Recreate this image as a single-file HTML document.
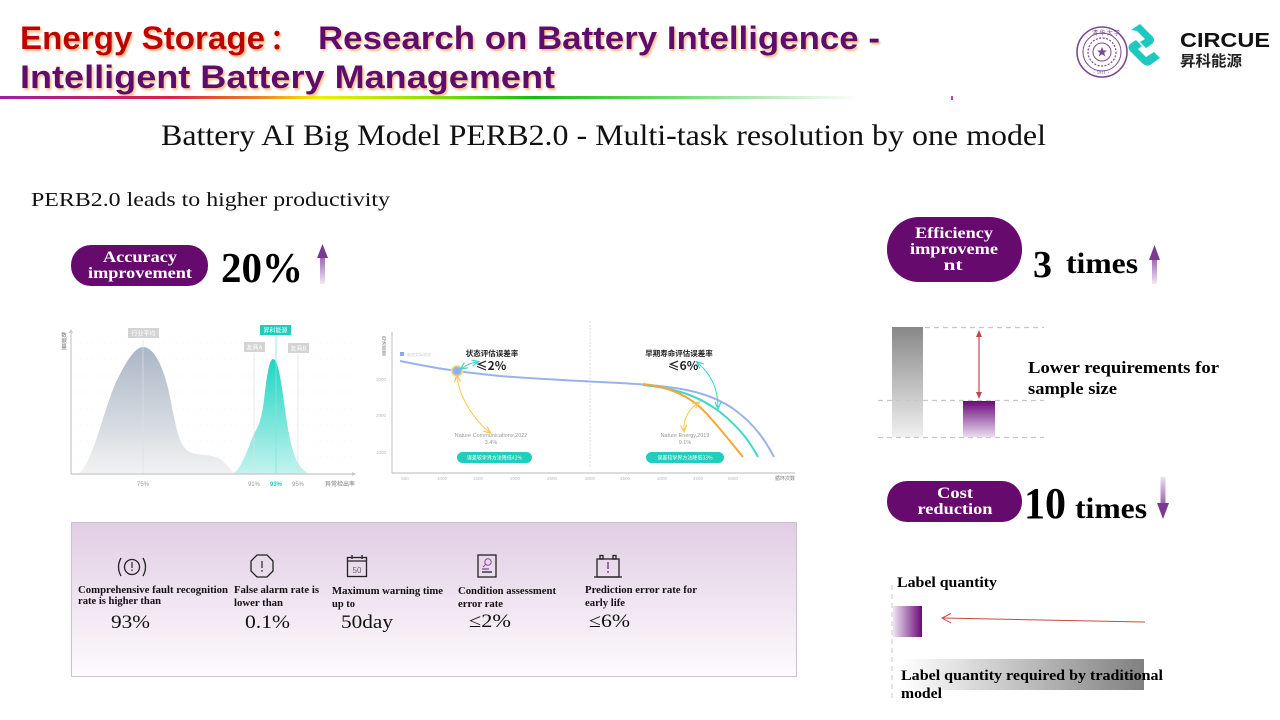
<!DOCTYPE html>
<html><head><meta charset="utf-8">
<style>
html,body{margin:0;padding:0;background:#fff;}
svg{display:block;}
</style></head>
<body>
<svg width="1280" height="720" viewBox="0 0 1280 720" xmlns="http://www.w3.org/2000/svg">
<defs>
  <linearGradient id="rainbow" x1="0" y1="0" x2="860" y2="0" gradientUnits="userSpaceOnUse">
    <stop offset="0" stop-color="#a020a0"/>
    <stop offset="0.2" stop-color="#e0204a"/>
    <stop offset="0.3" stop-color="#f08020"/>
    <stop offset="0.37" stop-color="#f0f000"/>
    <stop offset="0.5" stop-color="#90e000"/>
    <stop offset="0.62" stop-color="#10c010"/>
    <stop offset="0.78" stop-color="#70d870"/>
    <stop offset="1" stop-color="#ffffff"/>
  </linearGradient>
  <filter id="tshadow" x="-5%" y="-20%" width="110%" height="150%">
    <feDropShadow dx="1.5" dy="2" stdDeviation="1" flood-color="#f0a060" flood-opacity="0.75"/>
  </filter>
  <linearGradient id="upArrow" x1="0" y1="0" x2="0" y2="1">
    <stop offset="0" stop-color="#9a60b0"/>
    <stop offset="1" stop-color="#f3e8f5"/>
  </linearGradient>
  <linearGradient id="downArrow" x1="0" y1="0" x2="0" y2="1">
    <stop offset="0" stop-color="#ece0f0"/>
    <stop offset="1" stop-color="#9a60b0"/>
  </linearGradient>
  <linearGradient id="grayBar" x1="0" y1="0" x2="0" y2="1">
    <stop offset="0" stop-color="#888888"/>
    <stop offset="1" stop-color="#f0f0f0"/>
  </linearGradient>
  <linearGradient id="purpBar" x1="0" y1="0" x2="0" y2="1">
    <stop offset="0" stop-color="#6a0a78"/>
    <stop offset="1" stop-color="#eadcf0"/>
  </linearGradient>
  <linearGradient id="purpSq" x1="0" y1="0" x2="1" y2="0">
    <stop offset="0" stop-color="#efe4f2"/>
    <stop offset="1" stop-color="#6a0a78"/>
  </linearGradient>
  <linearGradient id="grayRect" x1="0" y1="0" x2="1" y2="0">
    <stop offset="0" stop-color="#ffffff"/>
    <stop offset="1" stop-color="#808080"/>
  </linearGradient>
  <linearGradient id="panelG" x1="0" y1="0" x2="0" y2="1">
    <stop offset="0" stop-color="#e1cde4"/>
    <stop offset="1" stop-color="#fdfbfd"/>
  </linearGradient>
  <linearGradient id="bellGray" x1="0" y1="0" x2="0" y2="1">
    <stop offset="0" stop-color="#aab6c6"/>
    <stop offset="1" stop-color="#f2f2f2"/>
  </linearGradient>
  <linearGradient id="bellTeal" x1="0" y1="0" x2="0" y2="1">
    <stop offset="0" stop-color="#1fd4c4"/>
    <stop offset="1" stop-color="#c4f3ee"/>
  </linearGradient>
  <radialGradient id="dotGlow">
    <stop offset="0" stop-color="#8aa8f0"/>
    <stop offset="0.55" stop-color="#9ab4f0"/>
    <stop offset="0.75" stop-color="#f8e070"/>
    <stop offset="1" stop-color="#fff6c0" stop-opacity="0"/>
  </radialGradient>
  <marker id="arrRed" markerWidth="8" markerHeight="8" refX="4" refY="4" orient="auto-start-reverse" markerUnits="userSpaceOnUse">
    <path d="M0,1 L7,4 L0,7 Z" fill="#c04848"/>
  </marker>
  <marker id="arrY" markerWidth="8" markerHeight="8" refX="5" refY="4" orient="auto-start-reverse" markerUnits="userSpaceOnUse">
    <path d="M0,1 L7,4 L0,7" fill="none" stroke="#f6c84a" stroke-width="1.2"/>
  </marker>
  <marker id="arrT" markerWidth="8" markerHeight="8" refX="5" refY="4" orient="auto-start-reverse" markerUnits="userSpaceOnUse">
    <path d="M0,1 L7,4 L0,7" fill="none" stroke="#38d6c6" stroke-width="1.2"/>
  </marker>
</defs>

<!-- Title -->
<g font-family="'Liberation Sans', 'Noto Sans CJK SC', sans-serif" font-weight="bold" font-size="32" filter="url(#tshadow)">
  <text x="20" y="49" fill="#c00000" textLength="245" lengthAdjust="spacingAndGlyphs">Energy Storage</text>
  <text x="270" y="49" fill="#c00000" font-family="'Noto Sans CJK SC', sans-serif" font-size="28">：</text>
  <text x="318" y="49" fill="#5e0a6c" textLength="562" lengthAdjust="spacingAndGlyphs">Research on Battery Intelligence -</text>
  <text x="20" y="88" fill="#5e0a6c" textLength="535" lengthAdjust="spacingAndGlyphs">Intelligent Battery Management</text>
</g>
<rect x="0" y="96" width="860" height="3" fill="url(#rainbow)"/>
<rect x="951" y="96" width="2" height="4" fill="#c040c0"/>

<!-- Logos -->
<g transform="translate(1102,52)" fill="none" stroke="#7a4a8e">
  <circle r="25" stroke-width="1.6"/>
  <circle r="19" stroke-width="1"/>
  <circle r="14" stroke-width="1.2" stroke-dasharray="2 1.5"/>
  <circle r="9" stroke-width="1"/>
  <path d="M0,-5 L1.5,-1.5 L5,-1.5 L2.2,0.8 L3.2,4.5 L0,2.3 L-3.2,4.5 L-2.2,0.8 L-5,-1.5 L-1.5,-1.5 Z" fill="#7a4a8e" stroke="none"/>
</g>
<g font-family="'Noto Sans CJK SC', sans-serif" font-size="6" fill="#7a4a8e">
  <text x="1092" y="35">清 华 大 学</text>
  <text x="1092" y="74" font-size="4">· 1911 ·</text>
</g>
<g fill="#1ec8c0">
  <path d="M1131,30 L1140,24 L1152,36 Q1156,40 1152,44 L1146,48 L1140,42 L1145,39 L1137,31 Z"/>
  <path d="M1130,44 L1136,40 L1142,46 L1138,49 L1146,57 L1154,52 L1160,58 L1150,65 Q1146,67 1142,63 L1130,51 Q1127,47 1130,44 Z"/>
</g>
<text x="1180" y="47" font-family="'Liberation Sans', sans-serif" font-weight="bold" font-size="20" fill="#111" textLength="90" lengthAdjust="spacingAndGlyphs">CIRCUE</text>
<text x="1180" y="66" font-family="'Noto Sans CJK SC', sans-serif" font-weight="bold" font-size="15" fill="#222" textLength="62" lengthAdjust="spacingAndGlyphs">昇科能源</text>

<!-- Subtitle -->
<text x="161" y="145" font-family="'Liberation Serif', serif" font-size="30" fill="#111" textLength="885" lengthAdjust="spacingAndGlyphs">Battery AI Big Model PERB2.0 - Multi-task resolution by one model</text>
<text x="31" y="206" font-family="'Liberation Serif', serif" font-size="20" fill="#111" textLength="359" lengthAdjust="spacingAndGlyphs">PERB2.0 leads to higher productivity</text>

<!-- Accuracy improvement -->
<rect x="71" y="245" width="137" height="41" rx="20" fill="#660a6e"/>
<g font-family="'Liberation Serif', serif" font-weight="bold" font-size="16" fill="#fff" text-anchor="middle">
  <text x="140" y="262" textLength="74" lengthAdjust="spacingAndGlyphs">Accuracy</text>
  <text x="140" y="278" textLength="104" lengthAdjust="spacingAndGlyphs">improvement</text>
</g>
<text x="221" y="282" font-family="'Liberation Serif', serif" font-weight="bold" font-size="42" fill="#000" textLength="82" lengthAdjust="spacingAndGlyphs">20%</text>
<rect x="320" y="256" width="5" height="28" fill="url(#upArrow)"/>
<path d="M322.5,244 L328,258 L317,258 Z" fill="#7a3a90"/>

<!-- Efficiency improvement -->
<rect x="887" y="217" width="135" height="65" rx="32" fill="#660a6e"/>
<g font-family="'Liberation Serif', serif" font-weight="bold" font-size="16" fill="#fff" text-anchor="middle">
  <text x="954" y="238" textLength="78" lengthAdjust="spacingAndGlyphs">Efficiency</text>
  <text x="954" y="254" textLength="88" lengthAdjust="spacingAndGlyphs">improveme</text>
  <text x="953" y="270" textLength="19" lengthAdjust="spacingAndGlyphs">nt</text>
</g>
<text x="1033" y="277" font-family="'Liberation Serif', serif" font-weight="bold" font-size="38" fill="#000">3</text>
<text x="1066" y="273" font-family="'Liberation Serif', serif" font-weight="bold" font-size="30" fill="#000" textLength="72" lengthAdjust="spacingAndGlyphs">times</text>
<rect x="1152" y="258" width="5" height="26" fill="url(#upArrow)"/>
<path d="M1154.5,245 L1160,260 L1149,260 Z" fill="#7a3a90"/>

<!-- Sample size chart -->
<rect x="892" y="327" width="31" height="110" fill="url(#grayBar)"/>
<g stroke="#c8c8c8" stroke-width="1.2" stroke-dasharray="5 4">
  <line x1="925" y1="327.5" x2="1044" y2="327.5"/>
  <line x1="878" y1="400.5" x2="1044" y2="400.5"/>
  <line x1="878" y1="437.5" x2="1044" y2="437.5"/>
</g>
<rect x="963" y="401" width="32" height="36" fill="url(#purpBar)"/>
<line x1="979" y1="333" x2="979" y2="396" stroke="#c04848" stroke-width="1.2" marker-start="url(#arrRed)" marker-end="url(#arrRed)"/>
<g font-family="'Liberation Serif', serif" font-weight="bold" font-size="17" fill="#000">
  <text x="1028" y="373" textLength="191" lengthAdjust="spacingAndGlyphs">Lower requirements for</text>
  <text x="1028" y="394" textLength="89" lengthAdjust="spacingAndGlyphs">sample size</text>
</g>

<!-- Cost reduction -->
<rect x="887" y="481" width="135" height="41" rx="20" fill="#660a6e"/>
<g font-family="'Liberation Serif', serif" font-weight="bold" font-size="16" fill="#fff" text-anchor="middle">
  <text x="955" y="498" textLength="36" lengthAdjust="spacingAndGlyphs">Cost</text>
  <text x="955" y="514" textLength="75" lengthAdjust="spacingAndGlyphs">reduction</text>
</g>
<text x="1024" y="518" font-family="'Liberation Serif', serif" font-weight="bold" font-size="44" fill="#000" textLength="42" lengthAdjust="spacingAndGlyphs">10</text>
<text x="1075" y="518" font-family="'Liberation Serif', serif" font-weight="bold" font-size="30" fill="#000" textLength="72" lengthAdjust="spacingAndGlyphs">times</text>
<rect x="1160.5" y="477" width="5" height="28" fill="url(#downArrow)"/>
<path d="M1157,503 L1169,503 L1163,519 Z" fill="#7a3a90"/>

<!-- Label quantity -->
<line x1="892" y1="585" x2="892" y2="700" stroke="#c8c8c8" stroke-width="1" stroke-dasharray="5 4"/>
<text x="897" y="587" font-family="'Liberation Serif', serif" font-weight="bold" font-size="14.5" fill="#000" textLength="100" lengthAdjust="spacingAndGlyphs">Label quantity</text>
<rect x="893" y="606" width="29" height="31" fill="url(#purpSq)"/>
<line x1="1145" y1="622" x2="943" y2="618" stroke="#c84a4a" stroke-width="1"/>
<path d="M951,613.5 L942,618 L951,623" fill="none" stroke="#c84a4a" stroke-width="1"/>
<rect x="902" y="659" width="242" height="31" fill="url(#grayRect)"/>
<g font-family="'Liberation Serif', serif" font-weight="bold" font-size="14.5" fill="#000">
  <text x="901" y="680" textLength="262" lengthAdjust="spacingAndGlyphs">Label quantity required by traditional</text>
  <text x="901" y="698" textLength="41" lengthAdjust="spacingAndGlyphs">model</text>
</g>

<!-- Chart 1 : distribution -->
<g>
  <g stroke="#f4f4f4" stroke-width="0.6" stroke-dasharray="3 3">
    <line x1="73" y1="343" x2="352" y2="343"/>
    <line x1="73" y1="359" x2="352" y2="359"/>
    <line x1="73" y1="376" x2="352" y2="376"/>
    <line x1="73" y1="392" x2="352" y2="392"/>
    <line x1="73" y1="409" x2="352" y2="409"/>
    <line x1="73" y1="425" x2="352" y2="425"/>
    <line x1="73" y1="441" x2="352" y2="441"/>
    <line x1="73" y1="457" x2="352" y2="457"/>
  </g>
  <path d="M77,474 C92,470 104,405 118,378 C128,358 136,347 143,347 C152,347 161,360 168,388 C175,418 177,446 190,452 C200,456 210,454 218,458 C226,462 230,470 236,474 Z" fill="url(#bellGray)"/>
  <path d="M233,474 C240,470 247,452 253,436 C257,428 261,424 264,400 C267,372 270,359 273,359 C277,359 280,372 284,402 C288,432 292,455 300,466 C304,471 307,473 310,474 Z" fill="url(#bellTeal)"/>
  <g stroke="#e0e0e0" stroke-width="0.7">
    <line x1="143" y1="340" x2="143" y2="474"/>
    <line x1="254" y1="353" x2="254" y2="474"/>
    <line x1="298" y1="354" x2="298" y2="474"/>
  </g>
  <line x1="276" y1="336" x2="276" y2="474" stroke="#7fe6dc" stroke-width="0.8"/>
  <line x1="71" y1="330" x2="71" y2="474" stroke="#c8c8c8" stroke-width="1.2"/>
  <line x1="71" y1="474" x2="355" y2="474" stroke="#c8c8c8" stroke-width="1.2"/>
  <path d="M69,333 L71,329 L73,333 Z" fill="#c8c8c8"/>
  <path d="M352,472 L356,474 L352,476 Z" fill="#c8c8c8"/>
  <rect x="128" y="328" width="31" height="10" fill="#d4d4d4"/>
  <rect x="260" y="325" width="31" height="10" fill="#1ecdbd"/>
  <rect x="244" y="342" width="21" height="10" fill="#d4d4d4"/>
  <rect x="288" y="343" width="21" height="10" fill="#d4d4d4"/>
  <g font-family="'Noto Sans CJK SC', sans-serif" font-size="6" fill="#fff" text-anchor="middle">
    <text x="143.5" y="335.5">行业平均</text>
    <text x="275.5" y="332.5">昇科能源</text>
    <text x="254.5" y="349.5">友商A</text>
    <text x="298.5" y="350.5">友商B</text>
  </g>
  <g font-family="'Liberation Sans', 'Noto Sans CJK SC', sans-serif" font-size="6" fill="#999" text-anchor="middle">
    <text x="143" y="486">75%</text>
    <text x="254" y="486">91%</text>
    <text x="276" y="486" fill="#1ecdbd" font-weight="bold">93%</text>
    <text x="298" y="486">95%</text>
    <text x="340" y="486" fill="#777">异常检出率</text>
  </g>
  <g font-family="'Noto Sans CJK SC', sans-serif" font-size="5.5" fill="#777" text-anchor="middle">
    <text x="64" y="337">数</text>
    <text x="64" y="343">据</text>
    <text x="64" y="349">量</text>
  </g>
</g>

<!-- Chart 2 : capacity curves -->
<g>
  <line x1="392" y1="332" x2="392" y2="473" stroke="#c8c8c8" stroke-width="1.2"/>
  <line x1="392" y1="473" x2="795" y2="473" stroke="#c8c8c8" stroke-width="1.2"/>
  <line x1="590" y1="321" x2="590" y2="468" stroke="#d4d4d4" stroke-width="0.8" stroke-dasharray="2 1.5"/>
  <path d="M400,361 C430,367 450,371 500,376 C540,379 580,381 620,383 C680,386 710,392 735,410 C755,425 765,440 774,457" fill="none" stroke="#9ab2ec" stroke-width="2"/>
  <path d="M643,385 C680,389 700,397 720,412 C740,428 750,442 758,457" fill="none" stroke="#42d8c8" stroke-width="2"/>
  <path d="M643,384 C670,387 690,396 705,412 C720,428 733,445 743,457" fill="none" stroke="#f7a72e" stroke-width="2"/>
  <circle cx="457" cy="371" r="7" fill="url(#dotGlow)"/>
  <path d="M457,377 C460,400 475,420 489,432" fill="none" stroke="#f6c84a" stroke-width="1" marker-start="url(#arrY)" marker-end="url(#arrY)"/>
  <path d="M462,368 C468,364 472,363 477,362" fill="none" stroke="#38d6c6" stroke-width="1" marker-start="url(#arrT)" marker-end="url(#arrT)"/>
  <path d="M698,363 C712,375 718,390 718,407" fill="none" stroke="#38d6c6" stroke-width="1" marker-start="url(#arrT)" marker-end="url(#arrT)"/>
  <path d="M698,403 C688,410 683,420 684,430" fill="none" stroke="#f6c84a" stroke-width="1" marker-start="url(#arrY)" marker-end="url(#arrY)"/>
  <rect x="400" y="352" width="4" height="4" fill="#8aa8f0"/>
  <text x="407" y="356" font-family="'Noto Sans CJK SC', sans-serif" font-size="4" fill="#ccc">电池实际状态</text>
  <g font-family="'Noto Sans CJK SC', sans-serif" font-weight="bold" fill="#222" text-anchor="middle">
    <text x="492" y="356" font-size="7.5">状态评估误差率</text>
    <text x="491" y="370" font-size="12">≤2%</text>
    <text x="679" y="356" font-size="7.5">早期寿命评估误差率</text>
    <text x="683" y="370" font-size="12">≤6%</text>
  </g>
  <g font-family="'Liberation Sans', sans-serif" font-size="5.5" fill="#999" text-anchor="middle">
    <text x="491" y="437">Nature Communications,2022</text>
    <text x="491" y="444">3.4%</text>
    <text x="685" y="437">Nature Energy,2019</text>
    <text x="685" y="444">9.1%</text>
  </g>
  <rect x="457" y="452" width="75" height="11" rx="5.5" fill="#22cdbd"/>
  <rect x="646" y="452" width="78" height="11" rx="5.5" fill="#22cdbd"/>
  <g font-family="'Noto Sans CJK SC', sans-serif" font-size="5" fill="#fff" text-anchor="middle">
    <text x="494.5" y="459.5">误差较学界方法降低41%</text>
    <text x="685" y="459.5">误差较学界方法降低33%</text>
  </g>
  <g font-family="'Liberation Sans', sans-serif" font-size="4.5" fill="#bbb" text-anchor="middle">
    <text x="405" y="480">500</text>
    <text x="442" y="480">1000</text>
    <text x="478" y="480">1500</text>
    <text x="515" y="480">2000</text>
    <text x="552" y="480">2500</text>
    <text x="590" y="480">3000</text>
    <text x="625" y="480">3500</text>
    <text x="662" y="480">4000</text>
    <text x="698" y="480">4500</text>
    <text x="733" y="480">5000</text>
    <text x="381" y="381">3000</text>
    <text x="381" y="417">2000</text>
    <text x="381" y="454">1000</text>
  </g>
  <text x="785" y="480" font-family="'Noto Sans CJK SC', sans-serif" font-size="5" fill="#777" text-anchor="middle">循环次数</text>
  <g font-family="'Noto Sans CJK SC', sans-serif" font-size="4.5" fill="#777" text-anchor="middle">
    <text x="384" y="340">电</text>
    <text x="384" y="345">池</text>
    <text x="384" y="350">容</text>
    <text x="384" y="355">量</text>
  </g>
</g>

<!-- Bottom panel -->
<rect x="71.5" y="522.5" width="725" height="154" fill="url(#panelG)" stroke="#d2bcd6" stroke-width="1"/>
<!-- icons -->
<g fill="none" stroke="#222" stroke-width="1.3">
  <circle cx="132" cy="567" r="7.5"/>
  <path d="M121,558 Q116,567 121,576"/>
  <path d="M143,558 Q148,567 143,576"/>
  <path d="M257,555 L267,555 L273,561 L273,571 L267,577 L257,577 L251,571 L251,561 Z"/>
  <rect x="347.5" y="557.5" width="19" height="19"/>
  <line x1="347.5" y1="561" x2="366.5" y2="561"/>
  <line x1="352" y1="555" x2="352" y2="559"/>
  <line x1="362" y1="555" x2="362" y2="559"/>
  <rect x="478" y="555" width="18" height="22"/>
  <line x1="482" y1="572" x2="492" y2="572"/>
  <line x1="482" y1="569" x2="489" y2="569" stroke="#8a4a9a"/>
  <circle cx="488" cy="562" r="3.2" stroke="#8a4a9a" stroke-width="1"/>
  <line x1="485.5" y1="564.5" x2="483" y2="567" stroke="#8a4a9a" stroke-width="1"/>
  <rect x="597" y="559" width="22" height="18"/>
  <line x1="594" y1="577" x2="622" y2="577"/>
  <rect x="600" y="555.5" width="3" height="3.5"/>
  <rect x="613" y="555.5" width="3" height="3.5"/>
</g>
<g fill="#555" font-family="'Liberation Serif', serif" text-anchor="middle">
  <rect x="131.2" y="562" width="1.6" height="6"/>
  <rect x="131.2" y="569.5" width="1.6" height="1.6"/>
  <rect x="261.2" y="561" width="1.6" height="7"/>
  <rect x="261.2" y="570" width="1.6" height="1.8"/>
  <rect x="607.2" y="562" width="1.6" height="7" fill="#8a4a9a"/>
  <rect x="607.2" y="571" width="1.6" height="1.8" fill="#8a4a9a"/>
  <text x="357" y="573" font-size="8" font-family="'Liberation Sans', sans-serif" fill="#666">50</text>
</g>
<g font-family="'Liberation Serif', serif" font-weight="bold" font-size="11" fill="#111">
  <text x="78" y="593" textLength="150" lengthAdjust="spacingAndGlyphs">Comprehensive fault recognition</text>
  <text x="78" y="604" textLength="83" lengthAdjust="spacingAndGlyphs">rate is higher than</text>
  <text x="234" y="593" textLength="85" lengthAdjust="spacingAndGlyphs">False alarm rate is</text>
  <text x="234" y="606" textLength="49" lengthAdjust="spacingAndGlyphs">lower than</text>
  <text x="332" y="594" textLength="111" lengthAdjust="spacingAndGlyphs">Maximum warning time</text>
  <text x="332" y="607" textLength="23" lengthAdjust="spacingAndGlyphs">up to</text>
  <text x="458" y="594" textLength="98" lengthAdjust="spacingAndGlyphs">Condition assessment</text>
  <text x="458" y="607" textLength="45" lengthAdjust="spacingAndGlyphs">error rate</text>
  <text x="585" y="593" textLength="112" lengthAdjust="spacingAndGlyphs">Prediction error rate for</text>
  <text x="585" y="606" textLength="40" lengthAdjust="spacingAndGlyphs">early life</text>
</g>
<g font-family="'Liberation Serif', serif" font-size="19" fill="#111">
  <text x="111" y="628" textLength="39" lengthAdjust="spacingAndGlyphs">93%</text>
  <text x="245" y="628" textLength="45" lengthAdjust="spacingAndGlyphs">0.1%</text>
  <text x="341" y="628" textLength="52" lengthAdjust="spacingAndGlyphs">50day</text>
  <text x="469" y="627" textLength="42" lengthAdjust="spacingAndGlyphs">≤2%</text>
  <text x="589" y="627" textLength="41" lengthAdjust="spacingAndGlyphs">≤6%</text>
</g>
</svg>
</body></html>
